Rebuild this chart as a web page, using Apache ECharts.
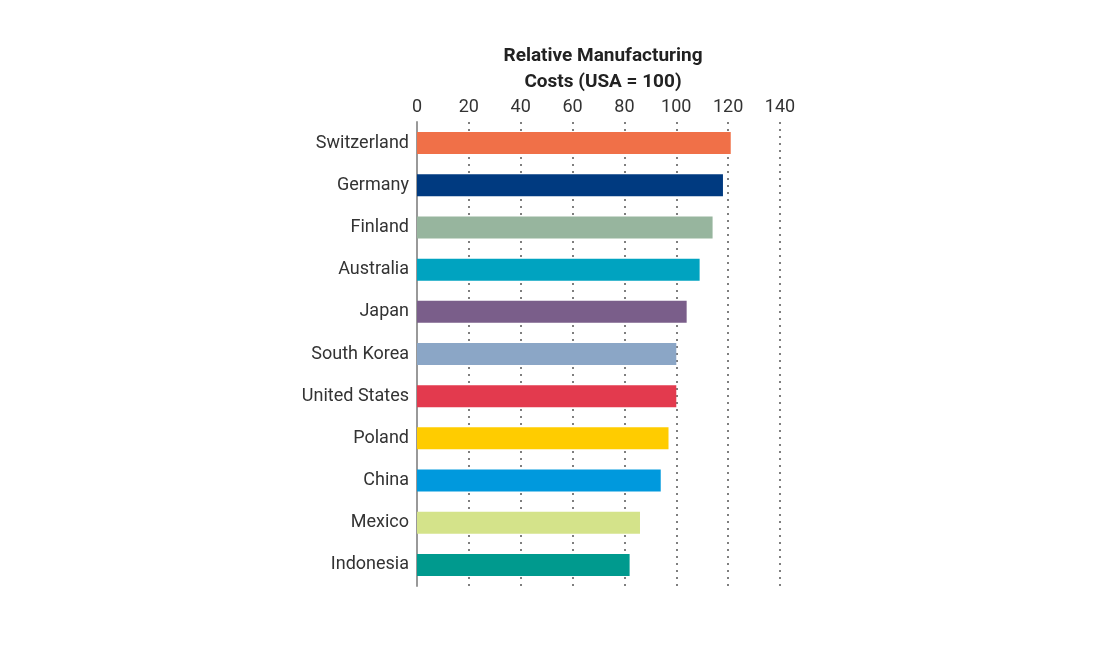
<!DOCTYPE html>
<html><head><meta charset="utf-8">
<script src="https://cdn.jsdelivr.net/npm/echarts@6/dist/echarts.min.js"></script>
<style>html,body{margin:0;background:#fff}#c{width:1112px;height:664px}</style>
</head><body><div id="c"></div>
<script>
var countries = ['Switzerland','Germany','Finland','Australia','Japan','South Korea','United States','Poland','China','Mexico','Indonesia'];
var costs = [121, 118, 114, 109, 104, 100, 100, 97, 94, 86, 82];
var colors = ['#F07048','#003A80','#97B59E','#00A3C0','#7A5E8A','#8BA6C6','#E33A4E','#FFCC00','#0099DD','#D4E38A','#009A8E'];

var chart = echarts.init(document.getElementById('c'));
chart.setOption({
    animation: false,
    title: {
        text: 'Relative Manufacturing\nCosts (USA = 100)',
        left: 598, top: 38, textAlign: 'center',
        textStyle: {fontFamily: 'Roboto', fontWeight: 'bold', fontSize: 19, lineHeight: 26, color: '#222'}
    },
    grid: {left: 417, right: 332, top: 122, bottom: 78},
    xAxis: {
        type: 'value', position: 'top', min: 0, max: 140, interval: 20,
        axisLine: {show: false}, axisTick: {show: false},
        axisLabel: {fontFamily: 'Roboto', fontSize: 18, color: '#333', margin: 6},
        splitLine: {show: true, lineStyle: {type: [2, 5], color: '#555', width: 1.5}}
    },
    yAxis: {
        type: 'category', data: countries, inverse: true,
        axisLine: {lineStyle: {color: '#999', width: 2}}, axisTick: {show: false},
        axisLabel: {fontFamily: 'Roboto', fontSize: 18, color: '#333', margin: 8}
    },
    series: [{
        type: 'bar', barWidth: 22,
        data: costs.map(function (v, i) { return {value: v, itemStyle: {color: colors[i]}}; })
    }]
});
</script></body></html>
